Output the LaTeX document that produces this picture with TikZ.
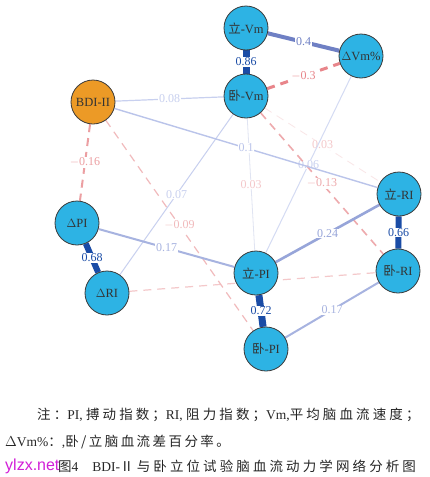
\documentclass[tikz,border=0pt]{standalone}
\usepackage{fontspec}
\setmainfont{Liberation Serif}
\newfontfamily\cjk{Noto Sans CJK SC}
\newfontfamily\cjkcap[LetterSpace=18]{Noto Sans CJK SC}
\newfontfamily\cjkwide[LetterSpace=23]{Noto Sans CJK SC}
\newfontfamily\wmfont{Liberation Sans}
\definecolor{nodecyan}{HTML}{2DB3E4}
\definecolor{nodeorange}{HTML}{EC9A26}
\definecolor{nodeline}{HTML}{3A3A3A}
\definecolor{bA}{HTML}{1A4CA6}
\definecolor{bB}{HTML}{6F80C4}
\definecolor{bC}{HTML}{97A5D9}
\definecolor{bD}{HTML}{A7B3E0}
\definecolor{bE}{HTML}{BAC4EA}
\definecolor{bF}{HTML}{C8D0EF}
\definecolor{bG}{HTML}{D4DBF3}
\definecolor{bH}{HTML}{E0E4F2}
\definecolor{rA}{HTML}{E8858A}
\definecolor{rB}{HTML}{EC9FA2}
\definecolor{rC}{HTML}{EEAAAD}
\definecolor{rD}{HTML}{F1BABC}
\definecolor{rE}{HTML}{F4C8CA}
\definecolor{rF}{HTML}{F9E6E7}
\definecolor{wmcol}{HTML}{D21FD8}
\pgfdeclarelayer{bg}
\pgfdeclarelayer{edges}
\pgfsetlayers{bg,edges,main}
\tikzset{
  nd/.style={circle, draw=nodeline, line width=0.8pt, fill=nodecyan, minimum size=44pt,
    inner sep=0pt, text=black!80, font=\fontsize{12.5}{12.5}\selectfont},
  bdi/.style={nd, fill=nodeorange},
  lab/.style={fill=white, inner sep=0.8pt, font=\fontsize{12}{12}\selectfont},
  neg/.style={dash pattern=on 8pt off 6pt},
  captxt/.style={anchor=base west, inner sep=0pt, text=black!85,
    font=\fontsize{13.5}{13.5}\selectfont}
}
\begin{document}
\begin{tikzpicture}[x=1pt,y=-1pt]
\begin{pgfonlayer}{bg}
\fill[white] (0,0) rectangle (429,477);
\end{pgfonlayer}
\useasboundingbox (0,0) rectangle (429,477);
\node[nd] (lvm) at (246,28) {{\cjk 立}-Vm};
\node[nd] (wvm) at (246,96) {{\cjk 卧}-Vm};
\node[nd] (dvm) at (361,56) {$\Delta$Vm\%};
\node[bdi] (bdi) at (93,102) {BDI-II};
\node[nd] (dpi) at (77,223) {$\Delta$PI};
\node[nd] (dri) at (107,293) {$\Delta$RI};
\node[nd] (lpi) at (256,273) {{\cjk 立}-PI};
\node[nd] (wpi) at (266,349) {{\cjk 卧}-PI};
\node[nd] (lri) at (399,194) {{\cjk 立}-RI};
\node[nd] (wri) at (398,271) {{\cjk 卧}-RI};
\begin{pgfonlayer}{edges}
\draw[bH, line width=0.8pt] (wvm) -- node[lab, text=rE]{0.03} (lpi);
\draw[rF, neg, line width=0.8pt] (wvm) -- node[lab, text=rE]{0.03} (lri);
\draw[bG, line width=1pt] (dvm) -- node[lab, text=bF]{0.06} (lpi);
\draw[bF, line width=1pt] (dri) -- node[lab, text=bF]{0.07} (wvm);
\draw[rE, neg, line width=1.2pt] (dri) -- (wri);
\draw[rD, neg, line width=1.2pt] (bdi) -- node[lab, text=rD]{$-$0.09} (wpi);
\draw[rC, neg, line width=1.6pt] (wvm) -- node[lab, text=rC]{$-$0.13} (wri);
\draw[bF, line width=1.2pt] (bdi) -- node[lab, text=bF]{0.08} (wvm);
\draw[bE, line width=1.4pt] (bdi) -- node[lab, text=bE]{0.1} (lri);
\draw[rB, neg, line width=2pt] (bdi) -- node[lab, text=rB]{$-$0.16} (dpi);
\draw[bD, line width=2pt] (dpi) -- node[lab, text=bD]{0.17} (lpi);
\draw[bD, line width=2pt] (wpi) -- node[lab, text=bD]{0.17} (wri);
\draw[bC, line width=2.6pt] (lpi) -- node[lab, text=bC]{0.24} (lri);
\draw[rA, neg, line width=3pt] (wvm) -- node[lab, text=rA]{$-$0.3} (dvm);
\draw[bB, line width=4pt] (lvm) -- node[lab, text=bB]{0.4} (dvm);
\draw[bA, line width=6pt] (dpi) -- node[lab, text=bA]{0.68} (dri);
\draw[bA, line width=6pt] (lri) -- node[lab, text=bA]{0.66} (wri);
\draw[bA, line width=7pt] (lpi) -- node[lab, text=bA]{0.72} (wpi);
\draw[bA, line width=7pt] (lvm) -- node[lab, text=bA]{0.86} (wvm);
\end{pgfonlayer}
% caption
\node[captxt] (c1) at (37,419)
  {{\cjkwide 注：}PI, {\cjkwide 搏动指数；}RI, {\cjkwide 阻力指数；}Vm,{\cjkwide 平均脑血流速度；}};
\node[captxt] (c2) at (5,446)
  {$\Delta$Vm\%{\cjkcap ：},{\cjkcap 卧/立脑血流差百分率。}};
\node[captxt] (c3) at (58,471)
  {{\cjkwide 图}4\hspace{14pt}BDI-{\cjkwide Ⅱ与卧立位试验脑血流动力学网络分析图}};
\node[anchor=base west, inner sep=0pt, text=wmcol, font=\wmfont\fontsize{16}{16}\selectfont] (wm) at (5,470) {ylzx.net};
\end{tikzpicture}
\end{document}
